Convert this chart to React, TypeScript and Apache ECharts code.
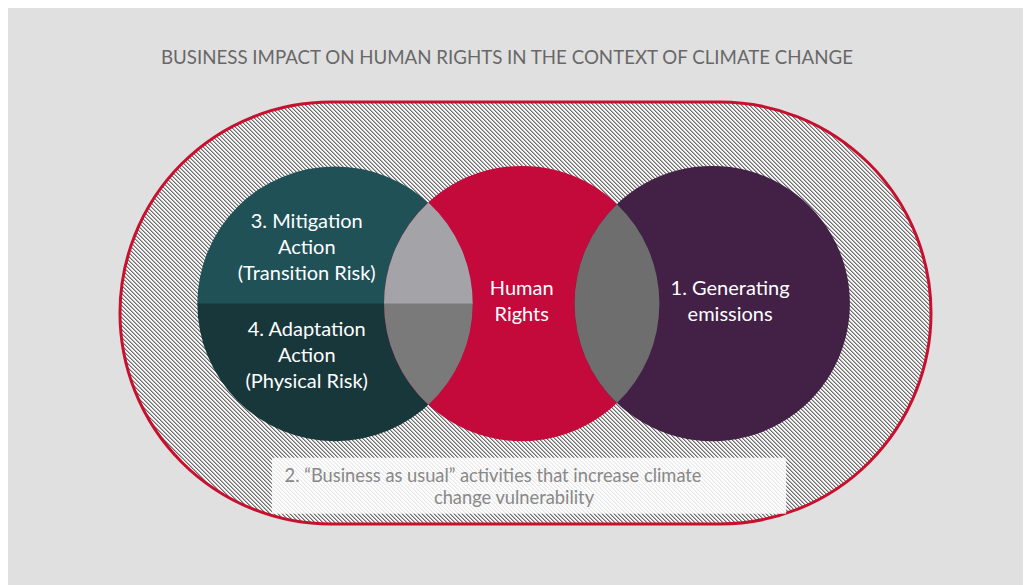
import React, { useEffect, useRef } from 'react';
import * as echarts from 'echarts';

const TITLE = 'BUSINESS IMPACT ON HUMAN RIGHTS IN THE CONTEXT OF CLIMATE CHANGE';

// Venn circles (data units: 1 unit ≈ distance between neighbouring circle centres)
const circleNames = ['Climate action', 'Human Rights', 'Generating emissions'];
const circleX = [-1.01, -0.02, 0.99];
const circleY = [0.05, 0.05, 0.05];
const circleR = [0.73, 0.73, 0.73];

// Overlaps between neighbouring circles (indices into the circle arrays)
const lensPairs = [
  [0, 1],
  [1, 2],
];

// Outer "business as usual" envelope
const envelopeX = [-2.15, 2.15];
const envelopeY = [-1.12, 1.12];

// Labels inside the circles
const labelTexts = [
  '3. Mitigation\nAction\n(Transition Risk)',
  '4. Adaptation\nAction\n(Physical Risk)',
  'Human\nRights',
  '1. Generating\nemissions',
];
const labelX = [-1.16, -1.16, -0.02, 1.085];
const labelY = [0.355, -0.217, 0.069, 0.069];

// Note at the bottom of the envelope
const noteLines = ['2. \u201CBusiness as usual\u201D activities that increase climate', 'change vulnerability'];
const noteX = [-0.172, -0.061];
const noteY = [-0.859, -0.976];
const noteBoxX = [-1.345, 1.382];
const noteBoxY = [-0.769, -1.066];

const COLORS = {
  bg: '#e0e0e0',
  title: '#686868',
  tealTop: '#1f5157',
  tealBottom: '#18373b',
  red: '#c4093b',
  purple: '#432046',
  lensTop: '#a4a3a8',
  lensBottom: '#7a7a7a',
  lensRight: '#6e6e6e',
  border: '#c8102e',
  note: '#888888',
};

function makeHatch(): string {
  const c = document.createElement('canvas');
  c.width = 4;
  c.height = 4;
  const ctx = c.getContext('2d')!;
  ctx.fillStyle = '#f6f6f6';
  ctx.fillRect(0, 0, 4, 4);
  for (let i = 0; i < 4; i++) {
    ctx.fillStyle = '#6a6a6a';
    ctx.fillRect(i, i, 1, 1);
    ctx.fillStyle = '#b4b4b4';
    ctx.fillRect((i + 1) % 4, i, 1, 1);
  }
  return c.toDataURL();
}

export default function App() {
  const ref = useRef<HTMLDivElement>(null);

  useEffect(() => {
    document.documentElement.style.overflow = 'hidden';
    const chart = echarts.init(ref.current!, null, { renderer: 'svg' });
    const hatch = makeHatch();
    const hatchFill: any = { image: hatch, repeat: 'repeat', imageWidth: 4, imageHeight: 4 };

    const circleData = circleX.map((x, i) => [x, circleY[i], circleR[i], i]);

    const option: any = {
      animation: false,
      backgroundColor: COLORS.bg,
      title: {
        text: TITLE,
        left: 148,
        top: 34,
        textStyle: { fontFamily: 'Lato', fontSize: 18.7, fontWeight: 'normal', color: COLORS.title },
      },
      grid: { left: 112, right: 100, top: 94, bottom: 61 },
      xAxis: { type: 'value', min: envelopeX[0], max: envelopeX[1], show: false },
      yAxis: { type: 'value', min: envelopeY[0], max: envelopeY[1], show: false },
      series: [
        {
          type: 'custom',
          name: 'envelope',
          clip: false,
          silent: true,
          data: [[envelopeX[0], envelopeY[1], envelopeX[1], envelopeY[0]]],
          renderItem: (params: any, api: any) => {
            const p1 = api.coord([api.value(0), api.value(1)]);
            const p2 = api.coord([api.value(2), api.value(3)]);
            const h = p2[1] - p1[1];
            return {
              type: 'rect',
              shape: { x: p1[0], y: p1[1], width: p2[0] - p1[0], height: h, r: h / 2 },
              style: { fill: hatchFill, stroke: COLORS.border, lineWidth: 3 },
            };
          },
        },
        {
          type: 'custom',
          name: 'circles',
          clip: false,
          silent: true,
          data: circleData,
          renderItem: (params: any, api: any) => {
            const c = api.coord([api.value(0), api.value(1)]);
            const r = api.size([api.value(2), 0])[0];
            const idx = api.value(3);
            if (idx === 0) {
              const top = `M${c[0] - r},${c[1] + 0.5} A${r},${r} 0 0 1 ${c[0] + r},${c[1] + 0.5} Z`;
              const bot = `M${c[0] + r},${c[1]} A${r},${r} 0 0 1 ${c[0] - r},${c[1]} Z`;
              return {
                type: 'group',
                children: [
                  { type: 'path', shape: { pathData: top }, style: { fill: COLORS.tealTop } },
                  { type: 'path', shape: { pathData: bot }, style: { fill: COLORS.tealBottom } },
                ],
              };
            }
            return {
              type: 'circle',
              shape: { cx: c[0], cy: c[1], r },
              style: { fill: idx === 1 ? COLORS.red : COLORS.purple },
            };
          },
        },
        {
          type: 'custom',
          name: 'overlaps',
          clip: false,
          silent: true,
          data: lensPairs.map((p, i) => [p[0], p[1], i]),
          renderItem: (params: any, api: any) => {
            const a = api.value(0);
            const b = api.value(1);
            const li = api.value(2);
            const ca = api.coord([circleX[a], circleY[a]]);
            const cb = api.coord([circleX[b], circleY[b]]);
            const r = api.size([circleR[a], 0])[0];
            const d = cb[0] - ca[0];
            const xm = ca[0] + d / 2;
            const hh = Math.sqrt(r * r - (d / 2) * (d / 2));
            const cy = ca[1];
            const P = [xm, cy - hh];
            const Q = [xm, cy + hh];
            const ar = ca[0] + r;
            const bl = cb[0] - r;
            if (li === 0) {
              const top = `M${P[0]},${P[1]} A${r},${r} 0 0 1 ${ar},${cy + 0.5} L${bl},${cy + 0.5} A${r},${r} 0 0 1 ${P[0]},${P[1]} Z`;
              const bot = `M${bl},${cy} L${ar},${cy} A${r},${r} 0 0 1 ${Q[0]},${Q[1]} A${r},${r} 0 0 1 ${bl},${cy} Z`;
              return {
                type: 'group',
                children: [
                  { type: 'path', shape: { pathData: top }, style: { fill: COLORS.lensTop } },
                  { type: 'path', shape: { pathData: bot }, style: { fill: COLORS.lensBottom } },
                ],
              };
            }
            const full = `M${P[0]},${P[1]} A${r},${r} 0 0 1 ${Q[0]},${Q[1]} A${r},${r} 0 0 1 ${P[0]},${P[1]} Z`;
            return { type: 'path', shape: { pathData: full }, style: { fill: COLORS.lensRight } };
          },
        },
        {
          type: 'custom',
          name: 'labels',
          clip: false,
          silent: true,
          data: labelTexts.map((t, i) => [labelX[i], labelY[i], i]),
          renderItem: (params: any, api: any) => {
            const p = api.coord([api.value(0), api.value(1)]);
            return {
              type: 'text',
              x: p[0],
              y: p[1],
              style: {
                text: labelTexts[api.value(2)],
                fill: '#ffffff',
                fontFamily: 'Lato',
                fontSize: 20,
                lineHeight: 26,
                align: 'center',
                verticalAlign: 'middle',
              },
            };
          },
        },
        {
          type: 'custom',
          name: 'note',
          clip: false,
          silent: true,
          data: [[noteBoxX[0], noteBoxY[0], noteBoxX[1], noteBoxY[1]]],
          renderItem: (params: any, api: any) => {
            const p1 = api.coord([api.value(0), api.value(1)]);
            const p2 = api.coord([api.value(2), api.value(3)]);
            const children: any[] = [
              {
                type: 'rect',
                shape: { x: p1[0], y: p1[1], width: p2[0] - p1[0], height: p2[1] - p1[1] },
                style: { fill: 'rgba(255,255,255,0.85)' },
              },
            ];
            noteLines.forEach((t, i) => {
              const q = api.coord([noteX[i], noteY[i]]);
              children.push({
                type: 'text',
                x: q[0],
                y: q[1],
                style: {
                  text: t,
                  fill: COLORS.note,
                  fontFamily: 'Lato',
                  fontSize: 18.3,
                  align: 'center',
                  verticalAlign: 'middle',
                },
              });
            });
            return { type: 'group', children };
          },
        },
      ],
    };

    chart.setOption(option);
    return () => chart.dispose();
  }, []);

  return <div ref={ref} style={{ width: 1023, height: 577 }} />;
}
